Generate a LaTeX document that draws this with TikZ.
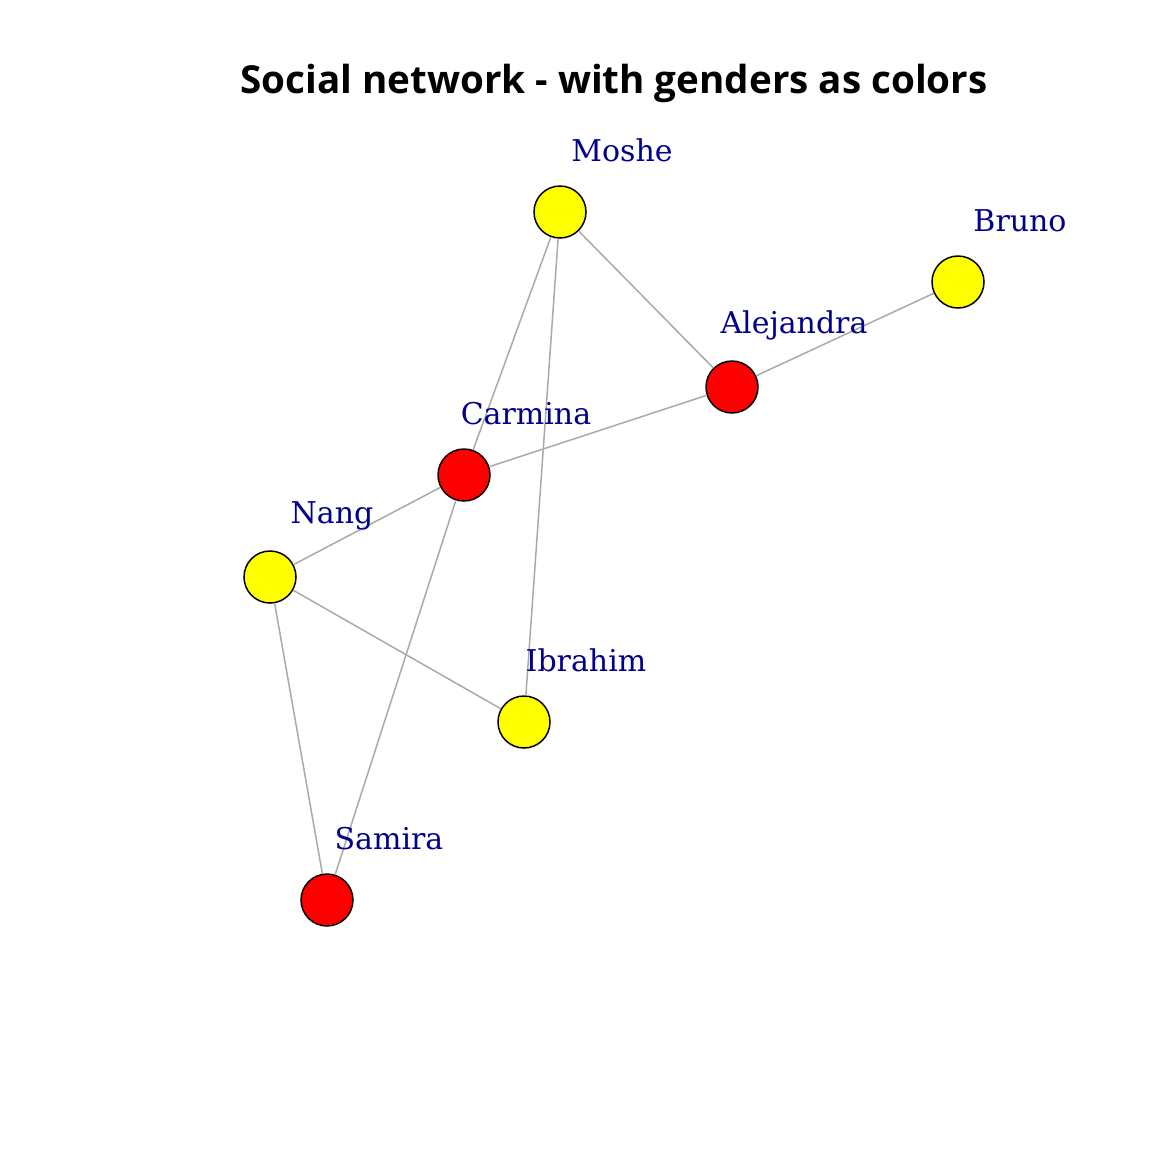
\documentclass[tikz,border=0pt]{standalone}
\usepackage{fontspec}
\usepackage{tikz}
\newfontfamily\titlefont{Open Sans}
\newfontfamily\namefont{DejaVu Serif}
\definecolor{edgegray}{RGB}{169,169,169}
\definecolor{namblue}{RGB}{0,0,139}
\definecolor{manyellow}{RGB}{255,255,0}
\definecolor{womanred}{RGB}{255,0,0}
\tikzset{
	person/.style    = {shape=circle, draw=black, line width=0.75pt,
		minimum size=26pt, inner sep=0pt},
	male/.style      = {person, fill=manyellow},
	female/.style    = {person, fill=womanred},
	namelabel/.style = {inner sep=0pt, text=namblue,
		font=\namefont\fontsize{15}{18}\selectfont,
		xshift=31pt, yshift=30.8pt},
	tie/.style       = {draw=edgegray, line width=0.75pt}
}
\begin{document}
\begin{tikzpicture}
	[
	x = 0.5pt,
	y = -0.5pt
	]
	\useasboundingbox (0,0) rectangle (1152,1152);
	\node [font=\titlefont\bfseries\fontsize{19.3}{23}\selectfont] (title) at (614,83)
		{Social network - with genders as colors};
	% people
	\node [male]   (moshe)     at (560,212) {};
	\node [male]   (bruno)     at (958,282) {};
	\node [female] (alejandra) at (732,387) {};
	\node [female] (carmina)   at (464,475) {};
	\node [male]   (nang)      at (270,577) {};
	\node [male]   (ibrahim)   at (524,722) {};
	\node [female] (samira)    at (327,900) {};
	% ties
	\draw [tie] (moshe) -- (alejandra);
	\draw [tie] (moshe) -- (carmina);
	\draw [tie] (moshe) -- (ibrahim);
	\draw [tie] (bruno) -- (alejandra);
	\draw [tie] (alejandra) -- (carmina);
	\draw [tie] (carmina) -- (nang);
	\draw [tie] (carmina) -- (samira);
	\draw [tie] (nang) -- (ibrahim);
	\draw [tie] (nang) -- (samira);
	% names
	\node [namelabel] (moshe-name)     at (moshe)     {Moshe};
	\node [namelabel] (bruno-name)     at (bruno)     {Bruno};
	\node [namelabel] (alejandra-name) at (alejandra) {Alejandra};
	\node [namelabel] (carmina-name)   at (carmina)   {Carmina};
	\node [namelabel] (nang-name)      at (nang)      {Nang};
	\node [namelabel] (ibrahim-name)   at (ibrahim)   {Ibrahim};
	\node [namelabel] (samira-name)    at (samira)    {Samira};
\end{tikzpicture}
\end{document}
